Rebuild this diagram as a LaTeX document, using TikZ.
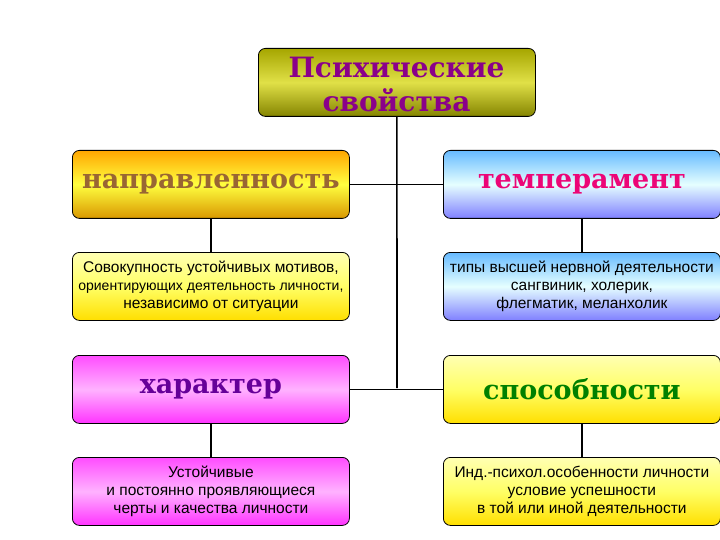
\documentclass[tikz,border=0pt]{standalone}
\usepackage{fontspec}
\setmainfont{DejaVu Serif}
\newfontfamily\ar{Liberation Sans}
\begin{document}
\begin{tikzpicture}[x=1pt,y=-1pt,
 bx/.style={draw=black,line width=0.8pt,rounded corners=7pt,minimum width=277pt,minimum height=68pt,inner sep=0pt,anchor=north west,align=center},
 big/.style={font=\bfseries\fontsize{27}{30}\selectfont},
 sm/.style={font=\ar\fontsize{15.5}{18}\selectfont},
 yel/.style={top color=yellow!30!white,bottom color=yellow!75!orange,middle color=yellow!60!white},
 gold/.style={top color=orange!70!yellow,bottom color=orange!60!yellow!85!black,middle color=yellow!75!white},
 blu/.style={top color=blue!45!cyan!60!white,bottom color=blue!50!white,middle color=cyan!10!white},
 pnk/.style={top color=magenta!70!white,bottom color=magenta!80!white,middle color=magenta!30!white},
 oli/.style={top color=olive!70!white,bottom color=olive!80!black!80,middle color=yellow!60!olive!60},
 ln/.style={line width=1.6pt}]
\useasboundingbox (0,0) rectangle (720,540);
\begin{scope}
\clip (0,0) rectangle (720,540);
\node[bx,oli,minimum height=68pt] (top) at (258,48) {};
\node[font=\bfseries\fontsize{28}{34}\selectfont,text=violet!80!magenta!90!black,align=center] (tt) at (396.5,84) {Психические\\свойства};
\node[bx,gold,big,text=brown!80!black] (n) at (72,150) {направленность};
\node[bx,blu,big,text=magenta!80!red] (t) at (443,150) {темперамент};
\node[bx,yel,sm] (n2) at (72,252) {Совокупность устойчивых мотивов,\\ {\fontsize{14}{18}\selectfont ориентирующих деятельность личности,}\\независимо от ситуации};
\node[bx,blu,sm] (t2) at (443,252) {типы высшей нервной деятельности\\сангвиник, холерик,\\флегматик, меланхолик};
\node[bx,pnk,big,text=violet!80!blue] (h) at (72,355) {характер};
\node[bx,yel,big,text=green!50!black] (s) at (443,355) {способности};
\node[bx,pnk,sm] (h2) at (72,457) {Устойчивые\\и постоянно проявляющиеся\\черты и качества личности};
\node[bx,yel,sm] (s2) at (443,457) {Инд.-психол.особенности личности\\условие успешности\\в той или иной деятельности};
\end{scope}
\coordinate (j2) at (397,388);
\draw[ln] (top.south) -- (j2);
\draw[ln] (n.east) -- (t.west);
\draw[ln] (h.east) -- (s.west);
\draw[ln] (n.south) -- (n2.north);
\draw[ln] (t.south) -- (t2.north);
\draw[ln] (h.south) -- (h2.north);
\draw[ln] (s.south) -- (s2.north);
\end{tikzpicture}
\end{document}
